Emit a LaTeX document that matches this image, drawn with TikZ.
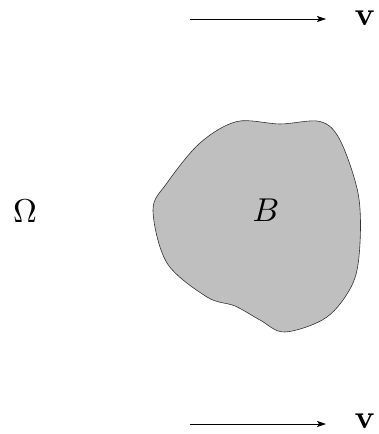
\documentclass[tikz,border=0pt]{standalone}
\usetikzlibrary{arrows.meta}
\begin{document}
\begin{tikzpicture}[x=1pt,y=-1pt,
  flow/.style={-{Stealth[length=9pt,width=6pt,inset=2pt]},line width=0.6pt},
  lbl/.style={inner sep=0pt,font=\fontsize{10}{12}\selectfont,scale=3.3}]
\useasboundingbox (0,0) rectangle (378,434);
\filldraw[fill=black!25,draw=black!80,line width=0.6pt]
  plot[smooth cycle,tension=0.55] coordinates {
  (237,121.5) (280,124) (320,121.5) (340,140) (358,193) (360,243) (353,283)
  (327,317) (285,332) (260,320) (235,306) (207,297) (167,263) (153,210) (167,183) (200,143)};
\node[lbl] (B) at (266,210) {$B$};
\node[lbl] (O) at (25,211) {$\Omega$};
\coordinate (a1) at (190,19);
\coordinate (a2) at (326,19);
\draw[flow] (a1) -- (a2);
\node[lbl] (v1) at (365,18) {$\mathbf{v}$};
\coordinate (b1) at (190,424);
\coordinate (b2) at (326,424);
\draw[flow] (b1) -- (b2);
\node[lbl] (v2) at (365,421) {$\mathbf{v}$};
\end{tikzpicture}
\end{document}
